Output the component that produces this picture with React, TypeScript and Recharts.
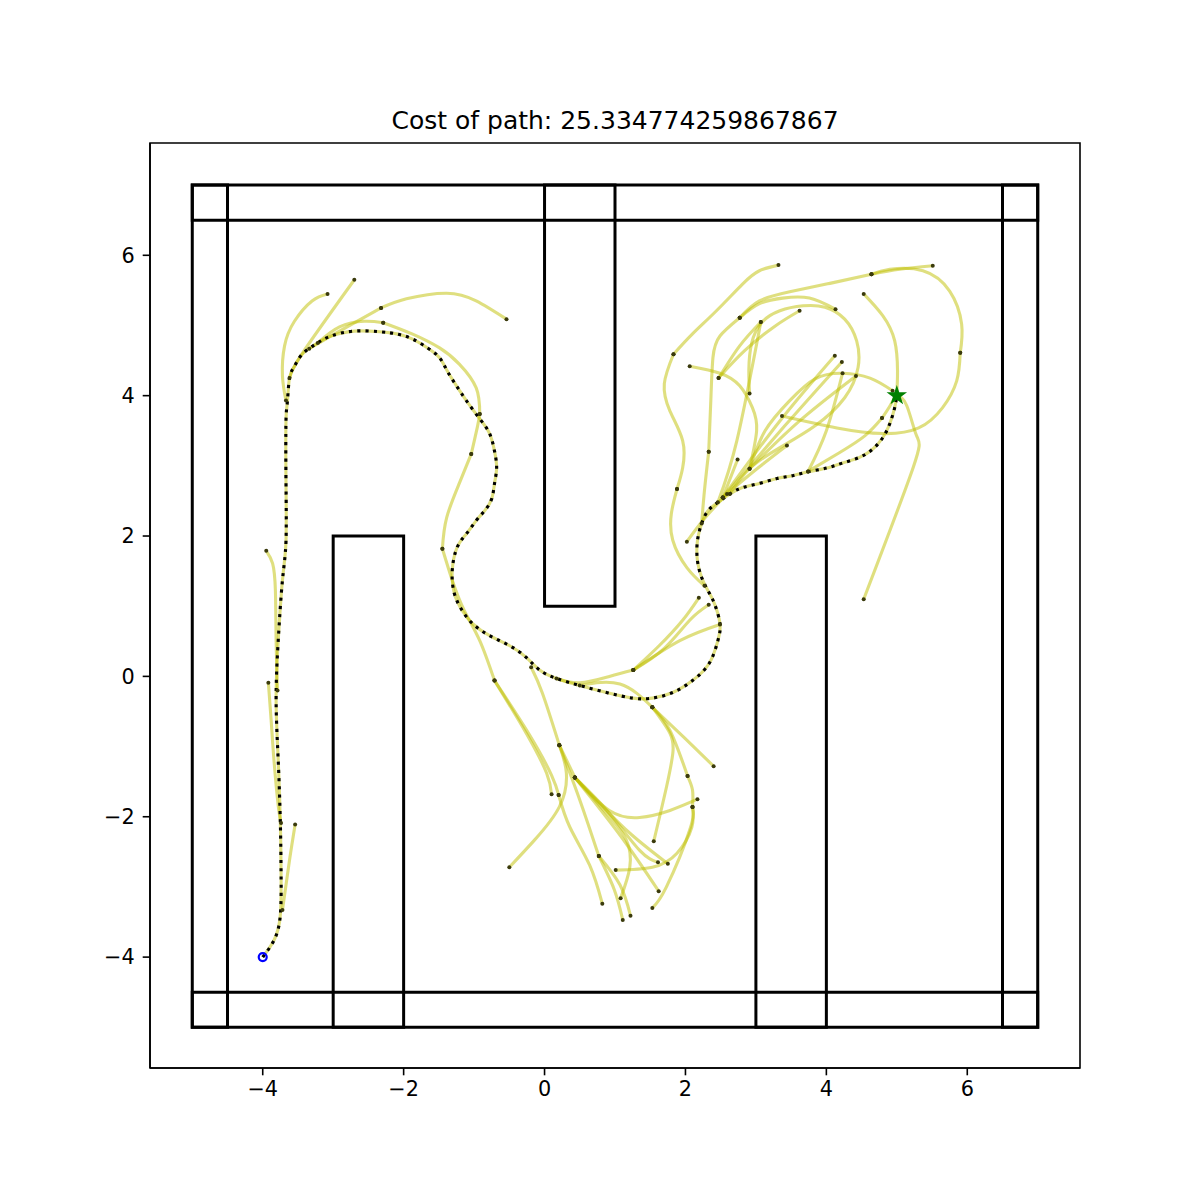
import { ComposedChart, Line, Scatter, XAxis, YAxis, ReferenceArea, Symbols } from 'recharts';

type Pt = [number, number];

const TITLE = 'Cost of path: 25.334774259867867';
const xTicks = [-4, -2, 0, 2, 4, 6];
const yTicks = [-4, -2, 0, 2, 4, 6];
const xDomain: [number, number] = [-5.6, 7.6];
const yDomain: [number, number] = [-5.58, 7.6];

// walls and blocks, [x1, y1, x2, y2]
const obstacles: [number, number, number, number][] = [
  [-5, -5, 7, -4.5],
  [-5, 6.5, 7, 7],
  [-5, -5, -4.5, 7],
  [6.5, -5, 7, 7],
  [0, 1, 1, 7],
  [-3, -5, -2, 2],
  [3, -5, 4, 2],
];

const start: Pt = [-4, -4];
const goal: Pt = [5, 4];

// final path (black dotted)
const pathPoints: Pt[] = [
  [-4, -4], [-3.84, -3.76], [-3.75, -3.4], [-3.74, -2.76], [-3.75, -2.08], [-3.78, -1.2],
  [-3.81, -0.34], [-3.78, 0.51], [-3.72, 1.37], [-3.67, 1.92], [-3.67, 2.79], [-3.67, 3.64],
  [-3.65, 3.91], [-3.62, 4.25], [-3.55, 4.42], [-3.44, 4.59], [-3.24, 4.74], [-3.03, 4.85],
  [-2.7, 4.92], [-2.34, 4.91], [-2.1, 4.88], [-1.88, 4.81], [-1.66, 4.68], [-1.49, 4.54],
  [-1.38, 4.35], [-1.25, 4.14], [-1.11, 3.93], [-0.92, 3.67], [-0.78, 3.46], [-0.71, 3.21],
  [-0.68, 2.97], [-0.71, 2.75], [-0.75, 2.53], [-0.85, 2.36], [-0.97, 2.22], [-1.11, 2.03],
  [-1.24, 1.84], [-1.31, 1.51], [-1.28, 1.18], [-1.17, 0.94], [-1.02, 0.75], [-0.78, 0.58],
  [-0.5, 0.44], [-0.26, 0.27], [-0.07, 0.09], [0.17, -0.03], [0.5, -0.13], [0.88, -0.23],
  [1.25, -0.31], [1.53, -0.31], [1.82, -0.23], [2.1, -0.06], [2.34, 0.19], [2.46, 0.51],
  [2.49, 0.75], [2.41, 1.04], [2.32, 1.22], [2.23, 1.41], [2.17, 1.65], [2.17, 1.93],
  [2.23, 2.18], [2.32, 2.36], [2.46, 2.48], [2.63, 2.6], [2.81, 2.69], [3.05, 2.75],
  [3.3, 2.82], [3.52, 2.86], [3.76, 2.92], [4.01, 2.97], [4.23, 3.04], [4.47, 3.12],
  [4.66, 3.24], [4.8, 3.4], [4.9, 3.6], [4.97, 3.83], [5, 4],
];

// tree edges (yellow)
const branches: Pt[][] = [
  // left / top-left
  [[-3.67, 3.93], [-3.72, 4.28], [-3.69, 4.71], [-3.55, 5.06], [-3.3, 5.35], [-3.08, 5.45]],
  [[-3.62, 4.25], [-3.44, 4.6], [-2.7, 5.65]],
  [[-3.34, 4.67], [-2.91, 4.92], [-2.32, 5.25]],
  [[-2.32, 5.25], [-1.96, 5.38], [-1.39, 5.46], [-0.97, 5.35], [-0.54, 5.09]],
  [[-3.22, 4.75], [-2.91, 4.98], [-2.56, 5.06], [-2.29, 5.04]],
  [[-2.29, 5.04], [-1.88, 4.88], [-1.49, 4.68], [-1.21, 4.45], [-0.97, 4.11], [-0.92, 3.74]],
  [[-0.92, 3.74], [-0.95, 3.57], [-1.04, 3.17]],
  [[-1.04, 3.17], [-1.21, 2.75], [-1.39, 2.26], [-1.45, 1.82]],
  [[-1.45, 1.82], [-1.31, 1.37], [-1.14, 0.94], [-0.92, 0.51], [-0.71, -0.06]],
  [[-3.79, -0.2], [-3.81, 0.51], [-3.82, 1.22], [-3.86, 1.61], [-3.95, 1.79]],
  [[-3.92, -0.09], [-3.88, -0.63], [-3.84, -1.2], [-3.78, -1.84], [-3.74, -2.09]],
  [[-3.54, -2.11], [-3.62, -2.62], [-3.72, -3.33]],
  // middle bottom
  [[-0.71, -0.06], [-0.26, -0.81], [0.03, -1.38], [0.1, -1.68]],
  [[-0.71, -0.06], [-0.21, -0.84], [0.1, -1.41], [0.2, -1.69]],
  [[-0.19, 0.13], [-0.03, -0.24], [0.21, -0.98]],
  [[0.21, -0.98], [0.31, -1.38], [0.21, -1.86], [-0.14, -2.33], [-0.5, -2.72]],
  [[0.21, -0.98], [0.43, -1.44]],
  [[0.43, -1.44], [0.92, -1.95], [1.35, -2.48], [1.61, -2.65]],
  [[0.43, -1.44], [0.81, -1.84], [1.24, -2.26], [1.75, -2.67]],
  [[0.43, -1.44], [1.07, -2.26], [1.62, -3.06]],
  [[0.43, -1.44], [0.88, -1.95], [1.16, -2.33], [1.21, -2.72], [1.08, -3.16]],
  [[0.21, -0.98], [0.5, -1.76], [0.77, -2.56]],
  [[0.77, -2.56], [0.99, -3.04], [1.11, -3.47]],
  [[0.77, -2.56], [1.07, -2.97], [1.22, -3.41]],
  [[0.2, -1.69], [0.36, -2.15], [0.64, -2.69], [0.82, -3.24]],
  [[0.43, -1.44], [0.92, -1.91], [1.35, -2.01], [1.78, -1.91], [2.17, -1.75]],
  [[0.17, -0.03], [0.5, -0.09], [0.92, 0], [1.26, 0.09]],
  [[1.26, 0.09], [1.63, 0.44], [1.96, 0.8], [2.19, 1.12]],
  [[1.26, 0.09], [1.7, 0.4], [2.06, 0.8], [2.33, 1.02]],
  [[1.26, 0.09], [1.92, 0.51], [2.49, 0.74]],
  [[0.5, -0.13], [1.07, -0.11], [1.53, -0.44]],
  [[1.53, -0.44], [1.78, -0.81], [1.82, -1.1], [1.73, -1.58], [1.55, -2.35]],
  [[1.53, -0.44], [1.99, -0.88], [2.4, -1.28]],
  [[1.53, -0.44], [1.78, -0.77], [2.03, -1.42]],
  [[2.03, -1.42], [2.1, -1.62], [2.1, -1.86]],
  [[2.1, -1.86], [2.09, -2.15], [1.88, -2.52], [1.53, -2.72], [1.01, -2.76]],
  [[2.1, -1.86], [2.06, -2.19], [1.73, -3.0], [1.53, -3.3]],
  // right
  [[5, 4], [5.14, 3.86], [5.28, 3.43], [5.23, 2.97], [4.53, 1.1]],
  [[2.27, 1.29], [2.02, 1.55], [1.82, 1.94], [1.8, 2.32], [1.88, 2.67]],
  [[1.88, 2.67], [1.96, 2.97], [1.96, 3.36], [1.78, 3.78], [1.7, 4.17], [1.83, 4.59]],
  [[1.83, 4.59], [2.1, 4.88], [2.44, 5.21], [2.81, 5.59], [3.05, 5.78], [3.32, 5.86]],
  [[2.59, 2.6], [2.27, 2.25], [2.02, 1.92]],
  [[2.23, 2.18], [2.27, 2.65], [2.33, 3.2]],
  [[2.33, 3.2], [2.36, 3.93], [2.39, 4.54], [2.49, 4.85], [2.77, 5.11]],
  [[2.46, 2.48], [2.73, 3.36], [3.07, 5.05]],
  [[2.63, 2.6], [2.91, 2.96], [3.34, 3.26], [3.84, 3.57], [4.26, 3.97], [4.45, 4.4], [4.43, 4.78],
    [4.26, 5.09], [3.98, 5.26], [3.67, 5.28], [3.34, 5.21], [3.08, 5.04], [2.94, 4.75], [2.9, 4.38], [2.91, 4.03]],
  [[2.77, 5.11], [3.05, 5.31], [3.38, 5.39], [3.76, 5.39], [4.13, 5.23]],
  [[2.77, 5.11], [3.05, 5.35], [3.48, 5.48], [4.05, 5.6], [4.64, 5.73]],
  [[4.64, 5.73], [5.04, 5.8], [5.51, 5.85]],
  [[5.9, 4.61], [5.92, 5.02], [5.75, 5.49], [5.37, 5.78], [4.9, 5.8], [4.64, 5.73]],
  [[3.37, 3.71], [4.15, 3.54], [4.8, 3.46], [5.31, 3.54], [5.65, 3.83], [5.85, 4.21], [5.9, 4.61]],
  [[5, 4.03], [5.01, 4.35], [4.97, 4.78], [4.8, 5.14], [4.53, 5.45]],
  [[4.79, 3.68], [4.9, 3.85], [5, 4.03]],
  [[2.53, 2.55], [3.34, 3.64], [4.12, 4.57]],
  [[2.53, 2.55], [3.41, 3.57], [4.22, 4.48]],
  [[2.91, 2.96], [3.62, 3.64], [4.42, 4.28]],
  [[3.74, 2.92], [4.0, 3.5], [4.23, 4.32]],
  [[2.91, 2.96], [3.13, 3.5], [3.48, 3.93], [3.84, 4.24], [4.23, 4.32], [4.62, 4.25], [4.94, 4.07]],
  [[2.06, 4.42], [2.49, 4.32], [2.77, 4.14], [2.95, 3.83], [3.01, 3.5], [2.91, 2.96]],
  [[2.47, 4.25], [2.77, 4.71], [3.07, 5.05]],
  [[2.47, 4.25], [2.84, 4.64], [3.27, 4.99], [3.62, 5.21]],
  [[2.53, 2.55], [2.74, 3.09]],
  [[3.74, 2.92], [4.19, 3.19], [4.55, 3.43], [4.79, 3.68]],
  [[2.53, 2.55], [2.98, 2.93], [3.44, 3.29]],
];

const toXY = (pts: Pt[]) => pts.map(([x, y]) => ({ x, y }));
const fmt = (v: number) => (v < 0 ? `\u2212${Math.abs(v)}` : `${v}`);

const YELLOW = '#bfbf00';

export default function App() {
  const nodes = toXY(branches.flatMap(b => [b[0], b[b.length - 1]]));

  return (
    <div style={{ position: 'absolute', left: 0, top: 0, width: 1200, height: 1200, background: '#fff', fontFamily: '"DejaVu Sans", sans-serif' }}>
      <ComposedChart width={1200} height={1200} margin={{ top: 143, right: 120, bottom: 88, left: 80 }}>
        <XAxis
          type="number"
          dataKey="x"
          domain={xDomain}
          ticks={xTicks}
          interval={0}
          allowDataOverflow
          height={44}
          tickFormatter={fmt}
          tick={{ fill: '#000', fontSize: 20.8 }}
          tickLine={{ stroke: '#000', strokeWidth: 1.6 }}
          axisLine={{ stroke: '#000', strokeWidth: 1.6 }}
          tickSize={7.3}
          tickMargin={6}
        />
        <YAxis
          type="number"
          dataKey="y"
          domain={yDomain}
          ticks={yTicks}
          interval={0}
          allowDataOverflow
          width={70}
          tickFormatter={fmt}
          tick={{ fill: '#000', fontSize: 20.8 }}
          tickLine={{ stroke: '#000', strokeWidth: 1.6 }}
          axisLine={{ stroke: '#000', strokeWidth: 1.6 }}
          tickSize={7.3}
          tickMargin={8}
        />
        <ReferenceArea x1={xDomain[0]} x2={xDomain[1]} y1={yDomain[0]} y2={yDomain[1]} fill="none" stroke="#000" strokeWidth={1.6} fillOpacity={0} />
        {obstacles.map((o, i) => (
          <ReferenceArea key={`ob-${i}`} x1={o[0]} y1={o[1]} x2={o[2]} y2={o[3]} fill="none" fillOpacity={0} stroke="#000" strokeWidth={3} />
        ))}
        {branches.map((b, i) => (
          <Line
            key={`br-${i}`}
            data={toXY(b)}
            dataKey="y"
            type="natural"
            stroke={YELLOW}
            strokeOpacity={0.5}
            strokeWidth={3.1}
            dot={false}
            activeDot={false}
            isAnimationActive={false}
          />
        ))}
        <Line data={toXY(pathPoints)} dataKey="y" type="natural" stroke={YELLOW} strokeOpacity={0.5} strokeWidth={3.1} dot={false} activeDot={false} isAnimationActive={false} />
        <Scatter
          data={nodes}
          isAnimationActive={false}
          shape={(p: any) => <circle cx={p.cx} cy={p.cy} r={2} fill="#3a3a0c" />}
        />
        <Line data={toXY(pathPoints)} dataKey="y" type="natural" stroke="#000" strokeWidth={3.1} strokeDasharray="3.1 5.1" dot={false} activeDot={false} isAnimationActive={false} />
        <Scatter
          data={toXY([start])}
          isAnimationActive={false}
          shape={(p: any) => <circle cx={p.cx} cy={p.cy} r={4} fill="none" stroke="#0000ff" strokeWidth={2.2} />}
        />
        <Scatter
          data={toXY([goal])}
          isAnimationActive={false}
          shape={(p: any) => <Symbols cx={p.cx} cy={p.cy} type="star" size={130} fill="#008000" />}
        />
      </ComposedChart>
      <div style={{ position: 'absolute', left: 150, width: 930, top: 108, lineHeight: 1, textAlign: 'center', fontSize: 25, color: '#000' }}>{TITLE}</div>
    </div>
  );
}
